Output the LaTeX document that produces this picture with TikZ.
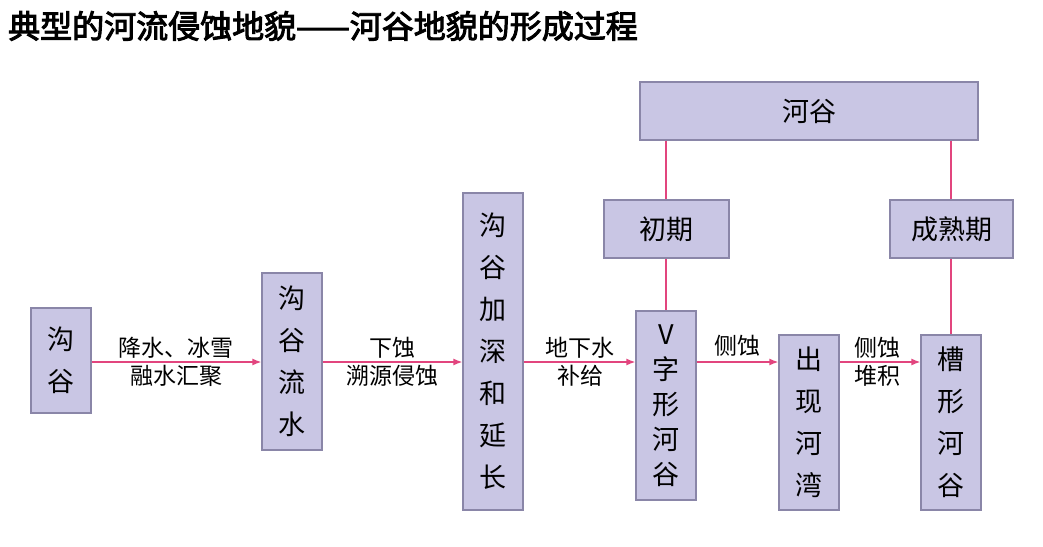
\documentclass[tikz,border=0pt]{standalone}
\usepackage{fontspec}
\setmainfont{Noto Sans CJK SC}
\newfontfamily\cjkb[AutoFakeBold=3]{Noto Sans CJK SC}
\usetikzlibrary{arrows.meta}
\definecolor{boxf}{HTML}{C9C6E4}
\definecolor{boxd}{HTML}{8A86A8}
\definecolor{arr}{HTML}{E2457E}
\begin{document}
\begin{tikzpicture}[x=1pt,y=-1pt,
 box/.style={draw=boxd,fill=boxf,line width=1.2pt,inner sep=0pt,font=\fontsize{27}{42}\selectfont,align=center},
 lab/.style={font=\fontsize{23}{28}\selectfont,align=center,inner sep=1pt},
 ar/.style={draw=arr,line width=1.5pt,-{Latex[length=9pt,width=7pt]}},
 ln/.style={draw=arr,line width=1.2pt}]
\fill[white] (0,0) rectangle (1043,546);
\useasboundingbox (0,0) rectangle (1043,546);
\node[anchor=west,font=\cjkb\bfseries\fontsize{32}{34}\selectfont,inner sep=0pt] (t) at (8,26) {典型的河流侵蚀地貌——河谷地貌的形成过程};
\newcommand\bx[7][]{\node[box,minimum width=#5-#3,minimum height=#6-#4,#1] (#2) at ({(#3+#5)/2},{(#4+#6)/2}) {#7};}
\bx{a}{31}{308}{91}{413}{沟\\谷}
\bx{b}{262}{273}{322}{450}{沟\\谷\\流\\水}
\bx{c}{463}{193}{523}{510}{沟\\谷\\加\\深\\和\\延\\长}
\bx{h}{640}{82}{978}{140}{河谷}
\bx{p1}{604}{200}{729}{258}{初期}
\bx{p2}{890}{200}{1013}{258}{成熟期}
\bx[font=\fontsize{27}{35}\selectfont]{v}{636}{311}{696}{500}{V\\字\\形\\河\\谷}
\bx{w}{779}{335}{839}{510}{出\\现\\河\\湾}
\bx{u}{921}{335}{981}{510}{槽\\形\\河\\谷}
\draw[ar] (a.east|-0,362) -- (b.west|-0,362);
\draw[ar] (b.east|-0,362) -- (c.west|-0,362);
\draw[ar] (c.east|-0,362) -- (v.west|-0,362);
\draw[ar] (v.east|-0,362) -- (w.west|-0,362);
\draw[ar] (w.east|-0,362) -- (u.west|-0,362);
\node[lab] (l1) at (176,362) {降水、冰雪\\融水汇聚};
\node[lab] (l2) at (392,362) {下蚀\\溯源侵蚀};
\node[lab] (l3) at (580,362) {地下水\\补给};
\node[lab,anchor=south] (l4) at (737,358) {侧蚀};
\node[lab] (l5) at (877,362) {侧蚀\\堆积};
\draw[ln] (h.south-|666,0) -- (p1.north-|666,0);
\draw[ln] (p1.south-|666,0) -- (v.north-|666,0);
\draw[ln] (h.south-|951,0) -- (p2.north-|951,0);
\draw[ln] (p2.south-|951,0) -- (u.north-|951,0);
\end{tikzpicture}
\end{document}
